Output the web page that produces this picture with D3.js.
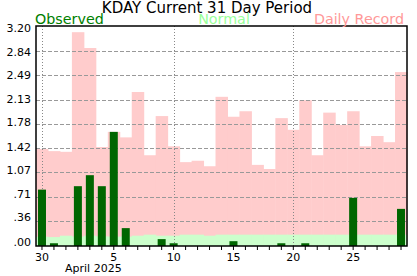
<!DOCTYPE html>
<html>
<head>
<meta charset="UTF-8">
<script src="https://d3js.org/d3.v7.min.js"></script>
<style>
  body { margin: 0; background: #fff; }
  text { font-family: "DejaVu Sans", Verdana, sans-serif; }
</style>
</head>
<body>
<svg width="417" height="276"></svg>
<script>
// days Mar 30 .. Apr 29 2025
const dayLabels = ["30","31","1","2","3","4","5","6","7","8","9","10","11","12","13","14","15",
  "16","17","18","19","20","21","22","23","24","25","26","27","28","29"];
const record = [1.41,1.38,1.37,3.11,2.88,1.44,1.66,1.58,2.24,1.32,1.89,1.45,1.22,1.24,1.16,2.17,
  1.88,1.96,1.18,1.12,1.86,1.69,2.12,1.32,1.94,1.76,1.96,1.45,1.60,1.51,2.53];
const normal = [0.135,0.13,0.15,0.136,0.15,0.14,0.136,0.136,0.15,0.165,0.15,0.15,0.165,0.165,0.15,0.165,
  0.165,0.165,0.165,0.165,0.165,0.165,0.165,0.165,0.165,0.165,0.165,0.165,0.165,0.165,0.165];
const observed = [0.82,0.04,0,0.87,1.03,0.87,1.66,0.26,0,0,0.10,0.04,0,0,0,0,
  0.07,0,0,0,0.04,0,0.04,0,0,0,0.70,0,0,0,0.54];
const yTicks = [0,0.36,0.71,1.07,1.42,1.78,2.13,2.49,2.84,3.20];
const labeledDays = ["30","5","10","15","20","25"];
const dottedDays = ["30","10","20"];

const mLeft = 36, mRight = 407, mTop = 26, mBottom = 246;
const svg = d3.select("svg");

const x = d3.scaleBand().domain(d3.range(dayLabels.length)).range([mLeft, mRight]).padding(0);
const y = d3.scaleLinear().domain([0, 3.2]).range([mBottom, mTop]);
// tick labels sit slightly inside the frame ends
const yLab = d3.scaleLinear().domain([0, 3.2]).range([241.5, 27.5]);

// record bars
svg.append("g").selectAll("rect").data(record).enter().append("rect")
  .attr("x", (d, i) => x(i)).attr("width", x.bandwidth() + 0.5)
  .attr("y", d => y(d)).attr("height", d => mBottom - y(d))
  .attr("fill", "#ffcccc");

// normal bars
svg.append("g").selectAll("rect").data(normal).enter().append("rect")
  .attr("x", (d, i) => x(i)).attr("width", x.bandwidth() + 0.5)
  .attr("y", d => y(d)).attr("height", d => mBottom - y(d))
  .attr("fill", "#ccffcc");

// horizontal grid
svg.append("g").selectAll("line").data(yTicks.slice(1, -1)).enter().append("line")
  .attr("x1", mLeft).attr("x2", mRight)
  .attr("y1", d => Math.round(y(d)) + 0.5).attr("y2", d => Math.round(y(d)) + 0.5)
  .attr("stroke", "#999").attr("stroke-dasharray", "4,2");

// vertical dotted lines
const cx = d => Math.round(x(dayLabels.indexOf(d)) + x.bandwidth() / 2) + 0.5;
svg.append("g").selectAll("line").data(dottedDays).enter().append("line")
  .attr("x1", cx).attr("x2", cx)
  .attr("y1", mTop).attr("y2", mBottom)
  .attr("stroke", "#888").attr("stroke-dasharray", "1,2");

// observed bars
svg.append("g").selectAll("rect").data(observed).enter().append("rect")
  .attr("x", (d, i) => x(i) + x.bandwidth() / 2 - 4).attr("width", 8)
  .attr("y", d => y(d)).attr("height", d => mBottom - y(d))
  .attr("fill", "#006600");

// frame
svg.append("rect").attr("x", mLeft).attr("y", mTop)
  .attr("width", mRight - mLeft).attr("height", mBottom - mTop)
  .attr("fill", "none").attr("stroke", "#000").attr("stroke-width", 1.5);

// y axis labels
svg.append("g").selectAll("text").data(yTicks).enter().append("text")
  .attr("x", 31).attr("y", d => yLab(d) + 4)
  .attr("text-anchor", "end").attr("font-size", 11)
  .text(d => d3.format(".2f")(d).replace(/^0/, ""));

// x ticks
const xAxis = d3.axisBottom(x).tickSize(4)
  .tickFormat(i => labeledDays.includes(dayLabels[i]) ? dayLabels[i] : "");
const gx = svg.append("g").attr("transform", `translate(0,${mBottom})`).call(xAxis);
gx.select(".domain").remove();
gx.selectAll("line").attr("stroke", "#000");
gx.selectAll("text").attr("font-size", 11).attr("fill", "#000")
  .attr("font-family", "DejaVu Sans, sans-serif");

svg.append("text").attr("x", 65).attr("y", 272).attr("font-size", 11).text("April 2025");

// title + legend
svg.append("text").attr("x", 207).attr("y", 12.5).attr("text-anchor", "middle")
  .attr("font-size", 15).text("KDAY Current 31 Day Period");
svg.append("text").attr("x", 35).attr("y", 24).attr("font-size", 14.3)
  .attr("fill", "#008000").text("Observed");
svg.append("text").attr("x", 224).attr("y", 24).attr("text-anchor", "middle").attr("font-size", 14.3)
  .attr("fill", "#99ff99").text("Normal");
svg.append("text").attr("x", 404).attr("y", 24).attr("text-anchor", "end").attr("font-size", 14.3)
  .attr("fill", "#ff9999").text("Daily Record");
</script>
</body>
</html>
